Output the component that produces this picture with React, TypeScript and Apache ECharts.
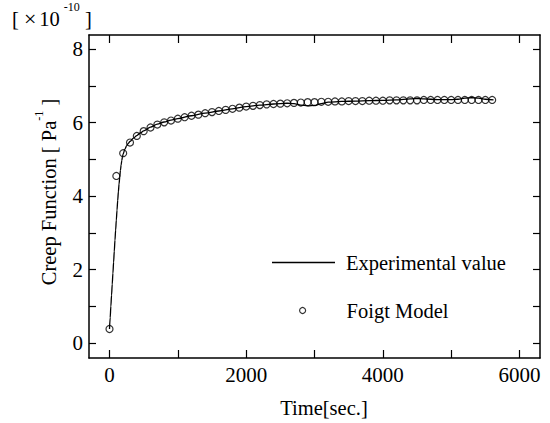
import React, { useEffect, useRef } from "react";
import * as echarts from "echarts";

const FONT = "Liberation Serif";

// Axis ticks and labelled values
const xTicks = [0, 1000, 2000, 3000, 4000, 5000, 6000];
const xLabels = [0, 2000, 4000, 6000];
const yTicks = [0, 1, 2, 3, 4, 5, 6, 7, 8];
const yLabels = [0, 2, 4, 6, 8];

// Measured creep function [x1e-10 1/Pa] vs time [s]
const experimental: [number, number][] = [
  [0, 0.38], [10, 0.69], [20, 1.0], [30, 1.3], [40, 1.6], [50, 1.9],
  [60, 2.2], [70, 2.5], [80, 2.8], [90, 3.08], [100, 3.35], [110, 3.62],
  [120, 3.88], [130, 4.12], [140, 4.33], [150, 4.52], [160, 4.7],
  [170, 4.85], [180, 4.97], [190, 5.07], [200, 5.15], [225, 5.28],
  [250, 5.37], [275, 5.44], [300, 5.49], [350, 5.58], [400, 5.65],
  [450, 5.72], [500, 5.78], [600, 5.88], [700, 5.96], [800, 6.02],
  [900, 6.07], [1000, 6.11], [1200, 6.19], [1400, 6.26], [1600, 6.32],
  [1800, 6.38], [2000, 6.44], [2200, 6.48], [2400, 6.51], [2600, 6.53],
  [2700, 6.52], [2800, 6.48], [2900, 6.46], [3000, 6.47], [3100, 6.52],
  [3200, 6.56], [3400, 6.58], [3600, 6.59], [3800, 6.6], [4000, 6.61],
  [4200, 6.62], [4400, 6.65], [4500, 6.66], [4600, 6.65], [4800, 6.63],
  [5000, 6.63], [5100, 6.64], [5200, 6.67], [5300, 6.68], [5400, 6.67],
  [5500, 6.64], [5620, 6.62],
];

// Foigt (Voigt) model prediction
const foigtModel: [number, number][] = [
  [0, 0.38], [100, 4.55], [200, 5.17], [300, 5.46], [400, 5.64],
  [500, 5.77], [600, 5.87], [700, 5.95], [800, 6.01], [900, 6.06],
  [1000, 6.11], [1100, 6.15], [1200, 6.19], [1300, 6.22], [1400, 6.26],
  [1500, 6.29], [1600, 6.32], [1700, 6.35], [1800, 6.38], [1900, 6.41],
  [2000, 6.44], [2100, 6.46], [2200, 6.48], [2300, 6.5], [2400, 6.51],
  [2500, 6.52], [2600, 6.53], [2700, 6.54], [2800, 6.55], [2900, 6.56],
  [3000, 6.56], [3100, 6.57], [3200, 6.57], [3300, 6.58], [3400, 6.58],
  [3500, 6.59], [3600, 6.59], [3700, 6.59], [3800, 6.6], [3900, 6.6],
  [4000, 6.6], [4100, 6.61], [4200, 6.61], [4300, 6.61], [4400, 6.61],
  [4500, 6.61], [4600, 6.62], [4700, 6.62], [4800, 6.62], [4900, 6.62],
  [5000, 6.62], [5100, 6.62], [5200, 6.62], [5300, 6.62], [5400, 6.62],
  [5500, 6.62], [5600, 6.62],
];

const X_MIN = -300;
const X_MAX = 6300;
const Y_MIN = -0.41;
const Y_MAX = 8.39;

const axisLine = { show: true, onZero: false, lineStyle: { color: "#000", width: 1.5 } };
const plain = (v: number) => String(v);

function xAxis(position: "top" | "bottom", labels: boolean) {
  return {
    type: "value",
    position,
    min: X_MIN,
    max: X_MAX,
    axisLine,
    axisTick: {
      show: true,
      inside: true,
      length: 8,
      customValues: xTicks,
      lineStyle: { color: "#000", width: 1.2 },
    },
    axisLabel: {
      show: labels,
      customValues: xLabels,
      formatter: plain,
      fontFamily: FONT,
      fontSize: 21,
      color: "#000",
      margin: 6,
    },
    splitLine: { show: false },
  };
}

function yAxis(position: "left" | "right", labels: boolean) {
  return {
    type: "value",
    position,
    min: Y_MIN,
    max: Y_MAX,
    axisLine,
    axisTick: {
      show: true,
      inside: true,
      length: 7,
      customValues: yTicks,
      lineStyle: { color: "#000", width: 1.2 },
    },
    axisLabel: {
      show: labels,
      customValues: yLabels,
      formatter: plain,
      fontFamily: FONT,
      fontSize: 21,
      color: "#000",
      margin: 6,
    },
    splitLine: { show: false },
  };
}

export default function App() {
  const ref = useRef<HTMLDivElement>(null);

  useEffect(() => {
    if (!ref.current) return;
    const chart = echarts.init(ref.current, null, { renderer: "svg" });
    chart.setOption({
      animation: false,
      backgroundColor: "#fff",
      textStyle: { fontFamily: FONT },
      grid: { left: 89, right: 10, top: 35, bottom: 65 },
      xAxis: [xAxis("bottom", true), xAxis("top", false)],
      yAxis: [yAxis("left", true), yAxis("right", false)],
      legend: [
        {
          data: [{ name: "Experimental value", icon: "rect" }],
          left: 272,
          top: 252,
          padding: 0,
          itemWidth: 63,
          itemHeight: 1.3,
          itemStyle: { color: "#000", borderWidth: 0 },
          textStyle: { fontFamily: FONT, fontSize: 20.5, color: "#000", padding: [0, 0, 0, 6] },
        },
        {
          data: [{ name: "Foigt Model", icon: "circle" }],
          left: 299,
          top: 300,
          padding: 0,
          itemWidth: 6,
          itemHeight: 6,
          itemStyle: { color: "rgba(0,0,0,0)", borderColor: "#000", borderWidth: 1.2 },
          textStyle: { fontFamily: FONT, fontSize: 20.5, color: "#000", padding: [0, 0, 0, 36] },
        },
      ],
      graphic: [
        {
          type: "text",
          left: 12,
          top: 1,
          style: {
            text: "{a|[ }{x|×}{a|10}{s|-10}{a| ]}",
            rich: {
              a: { fontFamily: FONT, fontSize: 20.5, fill: "#000", lineHeight: 28, verticalAlign: "bottom" },
              x: {
                fontFamily: FONT,
                fontSize: 22,
                fill: "#000",
                lineHeight: 28,
                verticalAlign: "bottom",
                padding: [0, 3, 0, 0],
              },
              s: {
                fontFamily: FONT,
                fontSize: 12,
                fill: "#000",
                lineHeight: 28,
                verticalAlign: "top",
                padding: [0, 0, 0, 4],
              },
            },
          },
        },
        {
          type: "text",
          x: 46,
          y: 192,
          rotation: Math.PI / 2,
          style: {
            text: "{a|Creep Function [ Pa}{s|-1}{a| ]}",
            align: "center",
            verticalAlign: "middle",
            rich: {
              a: { fontFamily: FONT, fontSize: 20.5, fill: "#000", lineHeight: 26, verticalAlign: "bottom" },
              s: { fontFamily: FONT, fontSize: 12, fill: "#000", lineHeight: 26, verticalAlign: "top" },
            },
          },
        },
        {
          type: "text",
          x: 324,
          y: 408,
          style: {
            text: "Time[sec.]",
            align: "center",
            verticalAlign: "middle",
            fontFamily: FONT,
            fontSize: 20.5,
            fill: "#000",
          },
        },
      ],
      series: [
        {
          type: "line",
          name: "Experimental value",
          data: experimental,
          symbol: "none",
          showSymbol: false,
          smooth: 0.3,
          smoothMonotone: "x",
          itemStyle: { color: "#000" },
          lineStyle: { color: "#000", width: 1.3 },
          z: 2,
        },
        {
          type: "scatter",
          name: "Foigt Model",
          data: foigtModel,
          symbol: "circle",
          symbolSize: 7,
          itemStyle: { color: "rgba(0,0,0,0)", borderColor: "#000", borderWidth: 1.2 },
          z: 3,
        },
      ],
    });
    return () => chart.dispose();
  }, []);

  return (
    <div
      ref={ref}
      style={{ position: "fixed", left: 0, top: 0, width: 550, height: 423, background: "#fff" }}
    />
  );
}
